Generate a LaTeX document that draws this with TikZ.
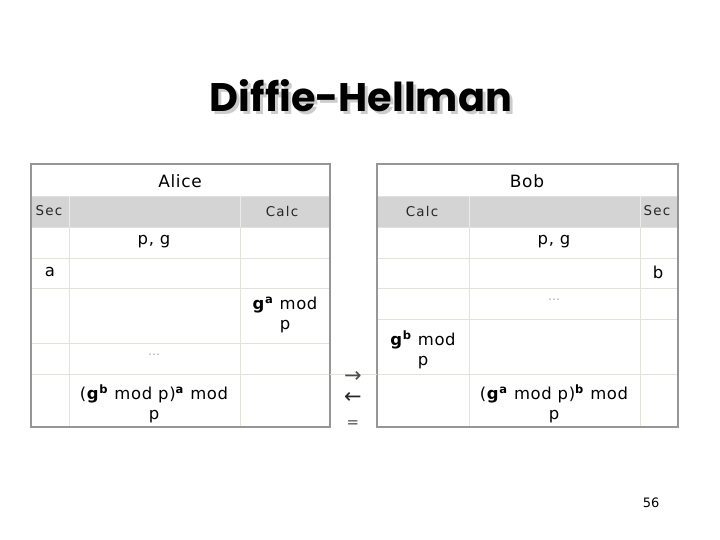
\documentclass[tikz,border=0pt]{standalone}
\usepackage{fontspec}
\setmainfont{DejaVu Sans}
\newfontfamily\cellfont{DejaVu Sans}[LetterSpace=4]
\newfontfamily\subfont{DejaVu Sans}[LetterSpace=9]
\newfontfamily\titlefont{Poppins}
\definecolor{gridc}{RGB}{226,226,218}
\definecolor{headc}{RGB}{212,212,212}
\definecolor{borderc}{RGB}{150,150,150}
\begin{document}
\begin{tikzpicture}[x=1bp,y=-1bp,
  grid/.style={draw=gridc,line width=0.8bp},
  border/.style={draw=borderc,line width=1.6bp},
  hdr/.style={font=\cellfont\fontsize{17}{19}\selectfont,inner sep=0pt},
  sub/.style={font=\subfont\fontsize{13.5}{15}\selectfont,text=black!85,inner sep=0pt},
  cell/.style={font=\cellfont\fontsize{16.5}{20.5}\selectfont,inner sep=0pt,align=center},
  dots/.style={font=\cellfont\fontsize{12}{13}\selectfont,text=gray!70,inner sep=0pt},
  sym/.style={font=\fontsize{21}{22}\selectfont,text=black!70,inner sep=0pt}]
\useasboundingbox (0,0) rectangle (720,540);
% title with its shadow
\node[font=\titlefont\bfseries\fontsize{40}{44}\selectfont,inner sep=0pt] (title) at (361,97)
  {\makebox[0pt][l]{\hspace{3bp}\raisebox{-3bp}{\color{gray!40}Diffie-Hellman}}Diffie-Hellman};
% Alice table
\fill[headc] (31,196) rectangle (330,227);
\draw[grid] (31,196) -- (330,196);
\foreach \yy in {227,258,288,343,374} \draw[grid] (31,\yy) -- (330,\yy);
\draw[grid,draw=white!92!black] (69,196) -- (69,227) (240,196) -- (240,227);
\draw[grid] (69,227) -- (69,427) (240,227) -- (240,427);
\draw[border] (31,164) rectangle (330,427);
% Bob table
\fill[headc] (377,196) rectangle (678,227);
\draw[grid] (377,196) -- (678,196);
\foreach \yy in {227,258,288,319,374} \draw[grid] (377,\yy) -- (678,\yy);
\draw[grid,draw=white!92!black] (469,196) -- (469,227) (640,196) -- (640,227);
\draw[grid] (469,227) -- (469,427) (640,227) -- (640,427);
\draw[border] (377,164) rectangle (678,427);
% faint row line in the middle gap
\draw[grid] (330,374) -- (377,374);
% Alice texts
\node[hdr] (alice) at (180,181) {Alice};
\node[sub] (asec) at (49,211) {Sec};
\node[sub] (acalc) at (282,211) {Calc};
\node[cell] (apg) at (154,242) {p, g};
\node[cell] (aa) at (50,272) {a};
\node[cell] (aga) at (285,315) {\textbf{g}\textsuperscript{\textbf{a}} mod\\p};
\node[dots] (adots) at (154,355) {\dots};
\node[cell] (ares) at (154,404) {(\textbf{g}\textsuperscript{\textbf{b}} mod p)\textsuperscript{\textbf{a}} mod\\p};
% Bob texts
\node[hdr] (bob) at (527,181) {Bob};
\node[sub] (bcalc) at (422,211) {Calc};
\node[sub] (bsec) at (657,211) {Sec};
\node[cell] (bpg) at (554,242) {p, g};
\node[cell] (bb) at (658,272) {b};
\node[dots] (bdots) at (554,300) {\dots};
\node[cell] (bgb) at (423,350) {\textbf{g}\textsuperscript{\textbf{b}} mod\\p};
\node[cell] (bres) at (554,404) {(\textbf{g}\textsuperscript{\textbf{a}} mod p)\textsuperscript{\textbf{b}} mod\\p};
% middle symbols
\node[sym] (rarr) at (353,377) {→};
\node[sym,text=black!85] (larr) at (353,398) {←};
\node[sym,font=\fontsize{15}{16}\selectfont] (eq) at (353,424) {=};
% page number
\node[font=\fontsize{13}{14}\selectfont,inner sep=0pt] (page) at (651,503) {56};
\end{tikzpicture}
\end{document}
